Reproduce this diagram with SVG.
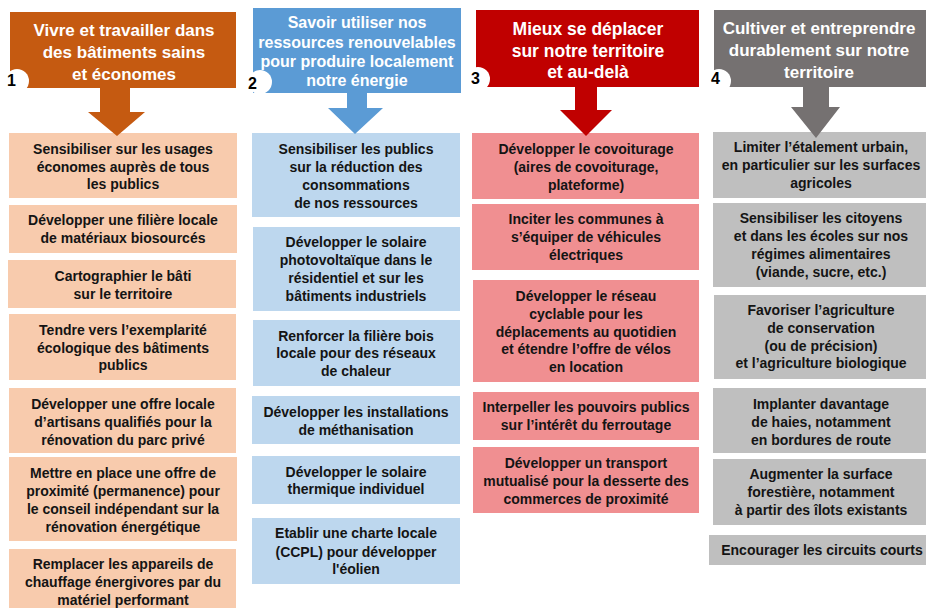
<svg xmlns="http://www.w3.org/2000/svg" width="926" height="608" viewBox="0 0 926 608">
<style>
.h{font-family:"Liberation Sans",Arial,sans-serif;font-weight:bold;fill:#fff;text-anchor:middle}
.t{font-family:"Liberation Sans",Arial,sans-serif;font-weight:bold;font-size:14px;fill:#141414;text-anchor:middle}
.n{font-family:"Liberation Sans",Arial,sans-serif;font-weight:bold;font-size:16px;fill:#000}
.c1{fill:#C55A11}.c2{fill:#5B9BD5}.c3{fill:#C00000}.c4{fill:#757171}
.l1{fill:#F8CBAD}.l2{fill:#BDD7EE}.l3{fill:#F08F91}.l4{fill:#BFBFBF}
.badge{fill:#fff}
</style>
<rect width="926" height="608" fill="#fff"/>

<g id="header1">
<rect class="c1" x="10" y="12" width="226" height="76"/>
<circle class="badge" cx="17" cy="81" r="12"/>
<text class="n" x="7" y="86">1</text>
<text class="h" font-size="17" x="124" y="36">Vivre et travailler dans</text>
<text class="h" font-size="17" x="124" y="58">des bâtiments sains</text>
<text class="h" font-size="17" x="124" y="80">et économes</text>
</g>
<g id="header2">
<rect class="c2" x="253" y="8" width="208" height="85"/>
<circle class="badge" cx="260" cy="82" r="12"/>
<text class="n" x="248" y="89">2</text>
<text class="h" font-size="16" x="357" y="28">Savoir utiliser nos</text>
<text class="h" font-size="16" x="357" y="48">ressources renouvelables</text>
<text class="h" font-size="16" x="357" y="67">pour produire localement</text>
<text class="h" font-size="16" x="357" y="86">notre énergie</text>
</g>
<g id="header3">
<rect class="c3" x="476" y="10" width="223" height="77"/>
<circle class="badge" cx="478" cy="79" r="12"/>
<text class="n" x="471" y="84">3</text>
<text class="h" font-size="17.5" x="588" y="35">Mieux se déplacer</text>
<text class="h" font-size="17.5" x="588" y="57">sur notre territoire</text>
<text class="h" font-size="17.5" x="588" y="78">et au-delà</text>
</g>
<g id="header4">
<rect class="c4" x="714" y="10" width="212" height="77"/>
<circle class="badge" cx="719" cy="81" r="12"/>
<text class="n" x="711" y="84">4</text>
<text class="h" font-size="17" x="819" y="34">Cultiver et entreprendre</text>
<text class="h" font-size="17" x="819" y="56">durablement sur notre</text>
<text class="h" font-size="17" x="819" y="78">territoire</text>
</g>

<!-- Column 1 -->
<g id="c1a"><rect class="l1" x="9" y="133" width="228" height="65"/>
<text class="t" x="123" y="154">Sensibiliser sur les usages</text>
<text class="t" x="123" y="172">économes auprès de tous</text>
<text class="t" x="123" y="189">les publics</text></g>
<g id="c1b"><rect class="l1" x="9" y="205" width="228" height="48"/>
<text class="t" x="123" y="225">Développer une filière locale</text>
<text class="t" x="123" y="243">de matériaux biosourcés</text></g>
<g id="c1c"><rect class="l1" x="8" y="260" width="228" height="48"/>
<text class="t" x="123" y="281">Cartographier le bâti</text>
<text class="t" x="123" y="299">sur le territoire</text></g>
<g id="c1d"><rect class="l1" x="9" y="314" width="227" height="66"/>
<text class="t" x="123" y="335">Tendre vers l’exemplarité</text>
<text class="t" x="123" y="353">écologique des bâtiments</text>
<text class="t" x="123" y="370">publics</text></g>
<g id="c1e"><rect class="l1" x="9" y="388" width="227" height="65"/>
<text class="t" x="123" y="409">Développer une offre locale</text>
<text class="t" x="123" y="427">d’artisans qualifiés pour la</text>
<text class="t" x="123" y="445">rénovation du parc privé</text></g>
<g id="c1f"><rect class="l1" x="9" y="457" width="228" height="84"/>
<text class="t" x="123" y="478">Mettre en place une offre de</text>
<text class="t" x="123" y="496">proximité (permanence) pour</text>
<text class="t" x="123" y="514">le conseil indépendant sur la</text>
<text class="t" x="123" y="532">rénovation énergétique</text></g>
<g id="c1g"><rect class="l1" x="9" y="549" width="227" height="70"/>
<text class="t" x="123" y="569">Remplacer les appareils de</text>
<text class="t" x="123" y="587">chauffage énergivores par du</text>
<text class="t" x="123" y="605">matériel performant</text></g>

<!-- Column 2 -->
<g id="c2a"><rect class="l2" x="252" y="133" width="208" height="84"/>
<text class="t" x="356" y="154">Sensibiliser les publics</text>
<text class="t" x="356" y="172">sur la réduction des</text>
<text class="t" x="356" y="190">consommations</text>
<text class="t" x="356" y="208">de nos ressources</text></g>
<g id="c2b"><rect class="l2" x="253" y="227" width="207" height="84"/>
<text class="t" x="356" y="247">Développer le solaire</text>
<text class="t" x="356" y="265">photovoltaïque dans le</text>
<text class="t" x="356" y="283">résidentiel et sur les</text>
<text class="t" x="356" y="301">bâtiments industriels</text></g>
<g id="c2c"><rect class="l2" x="253" y="320" width="207" height="66"/>
<text class="t" x="356" y="341">Renforcer la filière bois</text>
<text class="t" x="356" y="358">locale pour des réseaux</text>
<text class="t" x="356" y="376">de chaleur</text></g>
<g id="c2d"><rect class="l2" x="252" y="396" width="208" height="48"/>
<text class="t" x="356" y="417">Développer les installations</text>
<text class="t" x="356" y="435">de méthanisation</text></g>
<g id="c2e"><rect class="l2" x="252" y="456" width="208" height="48"/>
<text class="t" x="356" y="477">Développer le solaire</text>
<text class="t" x="356" y="494">thermique individuel</text></g>
<g id="c2f"><rect class="l2" x="252" y="518" width="208" height="66"/>
<text class="t" x="356" y="538">Etablir une charte locale</text>
<text class="t" x="356" y="557">(CCPL) pour développer</text>
<text class="t" x="356" y="574">l'éolien</text></g>

<!-- Column 3 -->
<g id="c3a"><rect class="l3" x="472" y="133" width="227" height="66"/>
<text class="t" x="586" y="154">Développer le covoiturage</text>
<text class="t" x="586" y="172">(aires de covoiturage,</text>
<text class="t" x="586" y="190">plateforme)</text></g>
<g id="c3b"><rect class="l3" x="472" y="204" width="227" height="66"/>
<text class="t" x="586" y="224">Inciter les communes à</text>
<text class="t" x="586" y="242">s’équiper de véhicules</text>
<text class="t" x="586" y="260">électriques</text></g>
<g id="c3c"><rect class="l3" x="473" y="280" width="226" height="102"/>
<text class="t" x="586" y="301">Développer le réseau</text>
<text class="t" x="586" y="319">cyclable pour les</text>
<text class="t" x="586" y="337">déplacements au quotidien</text>
<text class="t" x="586" y="354">et étendre l’offre de vélos</text>
<text class="t" x="586" y="372">en location</text></g>
<g id="c3d"><rect class="l3" x="473" y="392" width="226" height="48"/>
<text class="t" x="586" y="412">Interpeller les pouvoirs publics</text>
<text class="t" x="586" y="430">sur l’intérêt du ferroutage</text></g>
<g id="c3e"><rect class="l3" x="473" y="447" width="226" height="66"/>
<text class="t" x="586" y="468">Développer un transport</text>
<text class="t" x="586" y="486">mutualisé pour la desserte des</text>
<text class="t" x="586" y="504">commerces de proximité</text></g>

<!-- Column 4 -->
<g id="c4a"><rect class="l4" x="713" y="132" width="213" height="66"/>
<text class="t" x="821" y="152">Limiter l’étalement urbain,</text>
<text class="t" x="821" y="170">en particulier sur les surfaces</text>
<text class="t" x="821" y="188">agricoles</text></g>
<g id="c4b"><rect class="l4" x="713" y="203" width="213" height="84"/>
<text class="t" x="821" y="223">Sensibiliser les citoyens</text>
<text class="t" x="821" y="241">et dans les écoles sur nos</text>
<text class="t" x="821" y="259">régimes alimentaires</text>
<text class="t" x="821" y="277">(viande, sucre, etc.)</text></g>
<g id="c4c"><rect class="l4" x="714" y="295" width="212" height="84"/>
<text class="t" x="821" y="315">Favoriser l’agriculture</text>
<text class="t" x="821" y="333">de conservation</text>
<text class="t" x="821" y="351">(ou de précision)</text>
<text class="t" x="821" y="368">et l’agriculture biologique</text></g>
<g id="c4d"><rect class="l4" x="713" y="388" width="213" height="65"/>
<text class="t" x="821" y="409">Implanter davantage</text>
<text class="t" x="821" y="427">de haies, notamment</text>
<text class="t" x="821" y="445">en bordures de route</text></g>
<g id="c4e"><rect class="l4" x="713" y="459" width="213" height="66"/>
<text class="t" x="821" y="479">Augmenter la surface</text>
<text class="t" x="821" y="497">forestière, notamment</text>
<text class="t" x="821" y="515">à partir des îlots existants</text></g>
<g id="c4f"><rect class="l4" x="709" y="535" width="217" height="30"/>
<text class="t" x="822" y="555">Encourager les circuits courts</text></g>

<g id="connectors">
<polygon class="c1" points="100,87 130,87 130,112 145,112 117,136 88,112 100,112"/>
<polygon class="c2" points="347,92 367,92 367,108 383,108 355,134 328,108 347,108"/>
<polygon class="c3" points="575,86 597,86 597,110 612,110 586,136 560,110 575,110"/>
<polygon class="c4" points="803,86 829,86 829,107 840,107 816,138 791,107 803,107"/>
</g>
</svg>
